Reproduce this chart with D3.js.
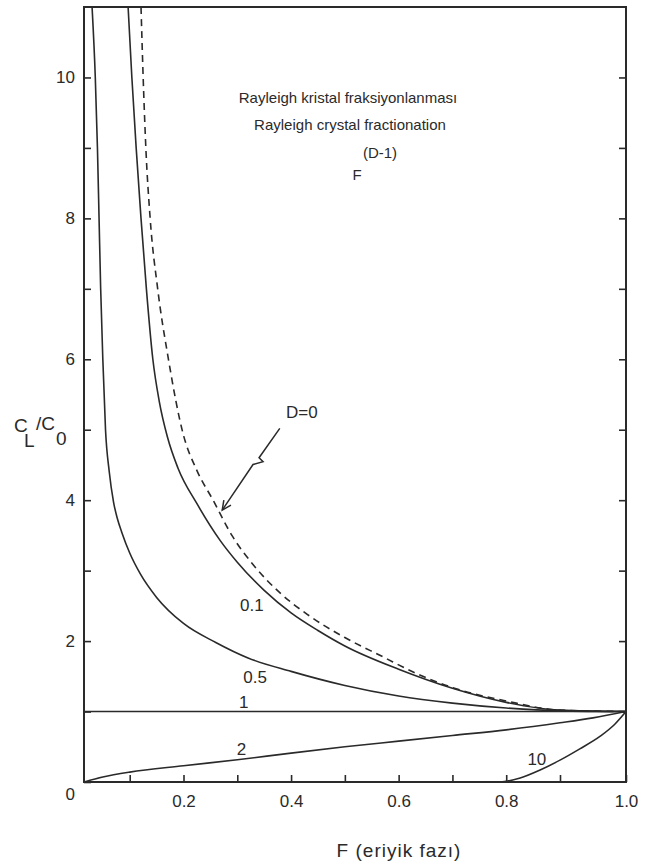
<!DOCTYPE html>
<html>
<head>
<meta charset="utf-8">
<script src="https://cdn.jsdelivr.net/npm/d3@7"></script>
<style>
  body { margin: 0; background: #fff; }
  text { font-family: "Liberation Sans", Arial, sans-serif; fill: #2a2a2a; }
</style>
</head>
<body>
<div class="graph"></div>
<script>
// svg size
let svgWidth = 648
let svgHeight = 864

let margin = { left: 84, right: 22, top: 7, bottom: 82 }
let width = svgWidth - margin.left - margin.right
let height = svgHeight - margin.top - margin.bottom

// curves: [F, CL/C0]
let curveD0 = [[0.121, 11], [0.125, 10], [0.13, 9], [0.138, 8], [0.152, 7], [0.172, 6], [0.199, 4.95],
  [0.225, 4.42], [0.255, 4.0], [0.29, 3.5], [0.33, 3.08], [0.38, 2.68], [0.43, 2.38],
  [0.5, 2.05], [0.57, 1.78], [0.63, 1.55], [0.7, 1.34], [0.8, 1.15], [0.9, 1.02], [1.0, 1.0]]
let curveD01 = [[0.097, 11], [0.104, 10], [0.112, 9], [0.121, 8], [0.131, 7], [0.143, 6], [0.155, 5.4],
  [0.17, 4.9], [0.19, 4.45], [0.225, 3.95], [0.268, 3.43], [0.3, 3.12], [0.35, 2.72], [0.4, 2.4],
  [0.45, 2.15], [0.5, 1.93], [0.6, 1.6], [0.7, 1.33], [0.8, 1.13], [0.9, 1.02], [1.0, 1.0]]
let curveD05 = [[0.030, 11], [0.036, 10], [0.040, 9], [0.043, 8], [0.046, 7], [0.050, 6], [0.055, 5],
  [0.062, 4.4], [0.07, 3.97], [0.077, 3.74], [0.085, 3.55], [0.1, 3.25], [0.12, 2.95], [0.15, 2.62],
  [0.2, 2.25], [0.26, 1.98], [0.32, 1.76], [0.4, 1.57], [0.5, 1.37], [0.6, 1.22],
  [0.7, 1.12], [0.8, 1.05], [0.9, 1.01], [1.0, 1.0]]
let curveD1 = [[0.015, 1], [1.0, 1]]
let curveD2 = [[0.015, 0], [0.05, 0.07], [0.1, 0.14], [0.2, 0.23], [0.3, 0.315], [0.4, 0.41],
  [0.5, 0.5], [0.6, 0.58], [0.7, 0.66], [0.8, 0.74], [0.9, 0.84], [0.95, 0.91], [1.0, 1.0]]
let curveD10 = [[0.015, 0], [0.5, 0], [0.788, 0], [0.826, 0.057], [0.863, 0.17], [0.9, 0.31],
  [0.93, 0.47], [0.961, 0.65], [0.983, 0.82], [1.0, 1.0]]

// curve labels [text, F, CL/C0]
let curveLabels = [["0.1", 0.327, 2.51], ["0.5", 0.333, 1.49], ["1", 0.312, 1.13],
  ["2", 0.308, 0.47], ["10", 0.857, 0.33]]

// D=0 pointer, in data units
let pointerText = ["D=0", 0.42, 5.25]
let pointerFrom = [0.379, 5.02]
let pointerTo = [0.272, 3.86]

let xTicks = [1, 2, 3, 4, 5, 6, 7, 8, 9, 10].map(i => i / 10)
let yTicks = d3.range(0, 11)

let titleLines = ["Rayleigh kristal fraksiyonlanması", "Rayleigh crystal fractionation"]

let svg = d3.select('.graph')
  .append('svg')
  .attr('width', svgWidth)
  .attr('height', svgHeight)
  .append('g')
  .attr('transform', `translate(${margin.left},${margin.top})`)

// the printed axis is slightly stretched near 1.0, so use a polylinear scale
let xScale = d3.scaleLinear()
  .domain([0.015, 0.9, 1.0])
  .range([0, 476, width])
let yScale = d3.scaleLinear()
  .domain([0, 11])
  .range([height, 0])

svg.append('clipPath').attr('id', 'plot-clip')
  .append('rect').attr('width', width).attr('height', height)

let line = d3.line()
  .x(d => xScale(d[0]))
  .y(d => yScale(d[1]))
  .curve(d3.curveMonotoneX)

let curves = svg.append('g').attr('clip-path', 'url(#plot-clip)')
;[curveD01, curveD05, curveD1, curveD2, curveD10].forEach(c => {
  curves.append('path')
    .attr('d', line(c))
    .attr('fill', 'none')
    .attr('stroke', '#2a2a2a')
    .attr('stroke-width', 1.6)
})
curves.append('path')
  .attr('d', line(curveD0))
  .attr('fill', 'none')
  .attr('stroke', '#2a2a2a')
  .attr('stroke-width', 1.6)
  .attr('stroke-dasharray', '7,5')

// axes, ticks pointing inward
let yAxis = d3.axisLeft(yScale)
  .tickValues(yTicks)
  .tickSizeInner(-7).tickSizeOuter(0).tickPadding(9)
  .tickFormat(d => d % 2 === 0 ? d : '')
let yAxisRight = d3.axisRight(yScale)
  .tickValues(yTicks.slice(1))
  .tickSizeInner(-7).tickSizeOuter(0)
  .tickFormat('')
let xAxis = d3.axisBottom(xScale)
  .tickValues(xTicks)
  .tickSizeInner(-7).tickSizeOuter(0).tickPadding(13)
  .tickFormat(d => Math.round(d * 10) % 2 === 0 ? d3.format('.1f')(d) : '')

let gy = svg.append('g').attr('id', 'y-axis').call(yAxis)
let gyr = svg.append('g').attr('transform', `translate(${width},0)`).call(yAxisRight)
let gx = svg.append('g').attr('id', 'x-axis').attr('transform', `translate(0,${height})`).call(xAxis)

;[gy, gyr, gx].forEach(g => {
  g.select('.domain').remove()
  g.selectAll('.tick line').attr('stroke', '#2a2a2a').attr('stroke-width', 1.6)
  g.selectAll('text').style('font-size', '17px').attr('fill', '#2a2a2a')
    .style('font-family', '"Liberation Sans", Arial, sans-serif')
})
gy.selectAll('.tick').filter(d => d === 0).select('text').attr('dy', '1.0em')

// frame
svg.append('rect')
  .attr('width', width).attr('height', height)
  .attr('fill', 'none').attr('stroke', '#2a2a2a').attr('stroke-width', 2)

// curve labels
svg.selectAll('.clabel')
  .data(curveLabels)
  .join('text')
  .attr('class', 'clabel')
  .attr('x', d => xScale(d[1]))
  .attr('y', d => yScale(d[2]))
  .attr('dy', '0.35em')
  .attr('text-anchor', 'middle')
  .style('font-size', '17px')
  .text(d => d[0])

// D=0 pointer with its little zigzag break
let p0 = [xScale(pointerFrom[0]), yScale(pointerFrom[1])]
let p1 = [xScale(pointerTo[0]), yScale(pointerTo[1])]
let dx = p1[0] - p0[0], dy = p1[1] - p0[1]
let mid = t => [p0[0] + dx * t, p0[1] + dy * t]
let m1 = mid(0.36), m2 = mid(0.43)
let pts = [p0, m1, [m1[0] + 4, m1[1] + 4], [m2[0] - 2, m2[1] + 1], p1]
svg.append('path')
  .attr('d', d3.line()(pts))
  .attr('fill', 'none').attr('stroke', '#2a2a2a').attr('stroke-width', 1.5)
let ang = Math.atan2(-dy, -dx)
let head = [-0.45, 0.45].map(a => [p1[0] + 10 * Math.cos(ang + a), p1[1] + 10 * Math.sin(ang + a)])
svg.append('path')
  .attr('d', d3.line()([head[0], p1, head[1]]))
  .attr('fill', 'none').attr('stroke', '#2a2a2a').attr('stroke-width', 1.5)
svg.append('text')
  .attr('x', xScale(pointerText[1])).attr('y', yScale(pointerText[2]))
  .attr('dy', '0.35em').attr('text-anchor', 'middle')
  .style('font-size', '17px')
  .text(pointerText[0])

// title block
let title = svg.append('g').attr('transform', `translate(${-margin.left},${-margin.top})`)
title.selectAll('.tline')
  .data(titleLines)
  .join('text')
  .attr('class', 'tline')
  .attr('x', (d, i) => i === 0 ? 348 : 350)
  .attr('y', (d, i) => 103 + i * 27)
  .attr('text-anchor', 'middle')
  .style('font-size', '15px')
  .text(d => d)
title.append('text')
  .attr('x', 380).attr('y', 158).attr('text-anchor', 'middle')
  .style('font-size', '15px').text('(D-1)')
title.append('text')
  .attr('x', 357).attr('y', 180).attr('text-anchor', 'middle')
  .style('font-size', '15px').text('F')

// axis titles
let labels = svg.append('g').attr('transform', `translate(${-margin.left},${-margin.top})`)
labels.append('text').attr('x', 399).attr('y', 857).attr('text-anchor', 'middle')
  .style('font-size', '19px').style('letter-spacing', '1px').text('F (eriyik fazı)')
labels.append('text').attr('x', 14).attr('y', 432).style('font-size', '19px').text('C')
labels.append('text').attr('x', 24).attr('y', 447).style('font-size', '19px').text('L')
labels.append('text').attr('x', 36).attr('y', 430).style('font-size', '19px').text('/C')
labels.append('text').attr('x', 56).attr('y', 445).style('font-size', '19px').text('0')
</script>
</body>
</html>
